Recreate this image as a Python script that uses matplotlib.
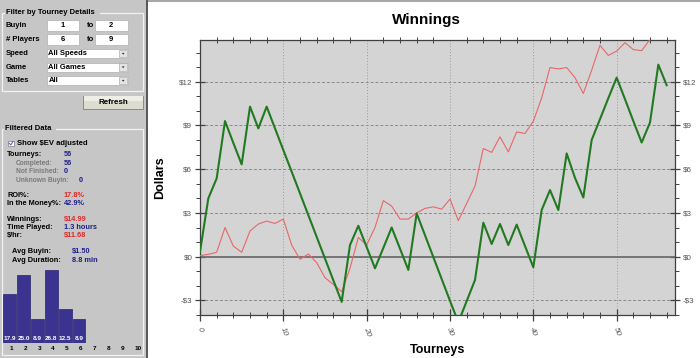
import matplotlib
matplotlib.use('Agg')
import matplotlib.pyplot as plt
import matplotlib.patches as mpatches
from matplotlib.ticker import MultipleLocator, FuncFormatter

# ---------------- data ----------------
tourneys = list(range(57))
winnings_ev = [0.34, 4.0, 5.37, 9.3, 7.8, 6.33, 10.29, 8.8, 10.29, 8.8,
               7.31, 5.83, 4.34, 2.85, 1.36, -0.13, -1.62, -3.1, 0.8, 2.12,
               0.66, -0.8, 0.6, 2.0, 0.55, -0.91, 2.97, 1.47, -0.03, -1.53,
               -3.03, -4.5, -3.05, -1.6, 2.33, 0.87, 2.24, 0.8, 2.2, 0.73,
               -0.73, 3.2, 4.57, 3.2, 7.08, 5.4, 4.06, 8.0, 9.43, 10.87,
               12.28, 10.8, 9.3, 7.83, 9.2, 13.17, 11.76]
winnings_ev_adj = [0.07, 0.16, 0.3, 2.0, 0.73, 0.3, 1.76, 2.24, 2.44, 2.28,
                   2.58, 0.8, -0.18, 0.18, -0.41, -1.44, -1.9, -2.4, -0.8, 1.32,
                   0.8, 2.0, 3.84, 3.47, 2.58, 2.58, 3.0, 3.31, 3.42, 3.26,
                   3.95, 2.47, 3.65, 4.84, 7.42, 7.15, 8.22, 7.19, 8.56, 8.45,
                   9.29, 10.89, 12.97, 12.88, 12.97, 12.28, 11.19, 12.79, 14.5, 13.8,
                   14.1, 14.68, 14.2, 14.13, 14.9, 15.6, 14.99]

finish_positions = [1, 2, 3, 4, 5, 6, 7, 8, 9, 10]
finish_pct = [17.9, 25.0, 8.9, 26.8, 12.5, 8.9, 0, 0, 0, 0]

filter_labels = ["Buyin", "# Players"]
filter_from = ["1", "6"]
filter_to = ["2", "9"]
combo_labels = ["Speed", "Game", "Tables"]
combo_values = ["All Speeds", "All Games", "All"]

W, H = 700, 358
fig = plt.figure(figsize=(W / 100, H / 100), dpi=100)
fig.patch.set_facecolor('white')

bg = fig.add_axes([0, 0, 1, 1], zorder=0)
bg.set_xlim(0, W)
bg.set_ylim(H, 0)
bg.axis('off')

PANEL = '#c6c6c6'
FONT = 'Liberation Sans'
FS = 5.3

def rect(x0, y0, x1, y1, fc='none', ec='none', lw=0.8, z=1):
    bg.add_patch(mpatches.Rectangle((x0, y0), x1 - x0, y1 - y0, facecolor=fc,
                                    edgecolor=ec, linewidth=lw, zorder=z))

def txt(x, y, s, color='black', bold=True, ha='left', fs=FS, z=5, **kw):
    bg.text(x, y, s, color=color, fontsize=fs, fontweight='bold' if bold else 'normal',
            ha=ha, va='center', family=FONT, zorder=z, **kw)

# panel background
rect(0, 0, 146, H, fc=PANEL)
rect(146, 0, 148, H, fc='#5a5a5a')
rect(148, 0, W, 2, fc='#a8a8a8')

# Filter group box
rect(2, 13, 143, 91, ec='#f2f2f2', lw=0.9)
rect(5, 9, 100, 16, fc=PANEL, z=2)
txt(6, 12.7, "Filter by Tourney Details", fs=5.5)

row_y = [25.5, 39.7]
for i, lab in enumerate(filter_labels):
    y = row_y[i]
    txt(6, y, lab, fs=5.5)
    rect(46.7, y - 5.3, 79.3, y + 5.3, fc='white', ec='#b0b0b0', lw=0.5, z=2)
    rect(95, y - 5.3, 127.7, y + 5.3, fc='white', ec='#b0b0b0', lw=0.5, z=2)
    txt(63, y, filter_from[i], ha='center', fs=5.5)
    txt(87, y, "to", fs=5.5)
    txt(111.3, y, filter_to[i], ha='center', fs=5.5)

combo_y = [53.7, 67.2, 80.7]
for i, lab in enumerate(combo_labels):
    y = combo_y[i]
    txt(6, y, lab, fs=5.5)
    rect(46.7, y - 4.6, 127.7, y + 4.6, fc='white', ec='#b0b0b0', lw=0.5, z=2)
    rect(119.3, y - 3.8, 127, y + 3.8, fc='#e4e4e4', ec='#a0a0a0', lw=0.4, z=3)
    bg.add_patch(mpatches.Polygon([(121.8, y - 0.8), (124.6, y - 0.8), (123.2, y + 1.0)],
                                  closed=True, fc='#303030', ec='none', zorder=4))
    txt(48.5, y, combo_values[i], fs=5.5)

# Refresh button
rect(83.3, 95.7, 143.3, 109.3, fc='#dcdcd0', ec='#8a8a80', lw=0.7, z=2)
rect(84, 96.4, 142.6, 101, fc='#eeeee6', z=3)
txt(113.3, 102.5, "Refresh", ha='center', fs=5.8)

# Filtered data group box
rect(2, 128.5, 143.3, 355, ec='#f2f2f2', lw=0.9)
rect(4, 124, 56, 132, fc=PANEL, z=2)
txt(5, 128.3, "Filtered Data", fs=5.5)

rect(8.3, 140.5, 13.8, 146, fc='white', ec='#808080', lw=0.5, z=2)
bg.plot([9.2, 10.8, 13.0], [143.2, 145.0, 141.4], color='#5060a0', lw=0.7, zorder=4)
txt(16.7, 143.2, "Show $EV adjusted", fs=5.5)

BLUE = '#1e1e8c'
RED = '#e02828'
GREY = '#7a7a7a'
stats = [
    ("Tourneys:", 7.3, 155.0, 'black', "56", 63.5, BLUE),
    ("Completed:", 16, 163.2, GREY, "56", 63.5, BLUE),
    ("Not Finished:", 16, 171.7, GREY, "0", 63.5, BLUE),
    ("Unknown Buyin:", 16, 180.3, GREY, "0", 79.0, BLUE),
    ("ROI%:", 7.3, 195.3, 'black', "17.8%", 63.5, RED),
    ("In the Money%:", 7.3, 203.7, 'black', "42.9%", 63.5, BLUE),
    ("Winnings:", 7.3, 219.3, 'black', "$14.99", 63.5, RED),
    ("Time Played:", 7.3, 227.5, 'black', "1.3 hours", 63.5, BLUE),
    ("$/hr:", 7.3, 236.0, 'black', "$11.68", 63.5, RED),
    ("Avg Buyin:", 12.0, 251.7, 'black', "$1.50", 72.0, BLUE),
    ("Avg Duration:", 12.0, 260.0, 'black', "8.8 min", 72.0, BLUE),
]
for lab, lx, y, lc, val, vx, vc in stats:
    txt(lx, y, lab, color=lc, fs=4.8 if lc == GREY else FS)
    txt(vx, y, val, color=vc)

# Finish-position histogram
hx0 = 2.65
hx1 = 141.65
hy_bot = 342.7
ppu = 2.71
ytop = 28.7
hax = fig.add_axes([hx0 / W, 1 - hy_bot / H, (hx1 - hx0) / W, ytop * ppu / H], zorder=2)
hax.set_xlim(0.5, 10.5)
hax.set_ylim(0, ytop)
hax.axis('off')
hax.bar(finish_positions, finish_pct, width=0.914, color='#3a3390',
        edgecolor='#28236e', linewidth=0.5)
for p, v in zip(finish_positions, finish_pct):
    if v > 0:
        hax.text(p, 1.4, f"{v:.1f}", color='white', fontsize=4.6, ha='center',
                 va='center', family=FONT, fontweight='bold')
for p in finish_positions:
    bx = hx0 + (p - 0.5) / 10 * (hx1 - hx0)
    txt(bx, 348.5, str(p), fs=4.6)

# ---------------- chart ----------------
L, R, T, B = 200, 675, 40, 315
ax = fig.add_axes([L / W, 1 - B / H, (R - L) / W, (B - T) / H], zorder=3)
ax.set_facecolor('#d4d4d4')
ax.plot(tourneys, winnings_ev, color='#217a21', lw=1.5, zorder=4)
ax.plot(tourneys, winnings_ev_adj, color='#e8676a', lw=0.8, zorder=3)
ax.set_xlim(0, 57)
ax.set_ylim(-4, 14.86)

ax.xaxis.set_major_locator(MultipleLocator(10))
ax.xaxis.set_minor_locator(MultipleLocator(2))
ax.yaxis.set_major_locator(MultipleLocator(3))
ax.yaxis.set_minor_locator(MultipleLocator(1))

def dollars(v, pos):
    v = int(round(v))
    return f"-${abs(v)}" if v < 0 else f"${v}"
ax.yaxis.set_major_formatter(FuncFormatter(dollars))

for yv in range(-3, 15, 3):
    if yv == 0:
        continue
    ax.axhline(yv, color='#8a8a8a', lw=0.7, ls=(0, (3, 2)), zorder=1)
for xv in range(10, 57, 10):
    ax.axvline(xv, color='#9a9a9a', lw=0.7, ls=(0, (1, 2)), zorder=1)
ax.axhline(0, color='#6e6e6e', lw=1.3, zorder=2)

for s in ax.spines.values():
    s.set_color('#404040')
    s.set_linewidth(0.9)

ax.tick_params(axis='y', which='major', direction='inout', length=7, width=0.9,
               color='#404040', labelsize=5.8, labelcolor='#555555',
               left=True, right=True, labelleft=True, labelright=True, pad=2)
ax.tick_params(axis='y', which='minor', direction='out', length=3, width=0.7,
               color='#404040', left=True, right=True)
ax.tick_params(axis='x', which='major', direction='inout', length=8, width=0.9,
               color='#404040', labelsize=5.8, labelcolor='#555555', top=False,
               bottom=True, pad=4)
ax.tick_params(axis='x', which='minor', direction='inout', length=4, width=0.7,
               color='#404040', top=True, bottom=True)
for lab in ax.get_yticklabels():
    lab.set_family(FONT)
for lab in ax.get_xticklabels():
    lab.set_family(FONT)
    lab.set_rotation(-70)
    lab.set_style('italic')
    lab.set_ha('center')

fig.text(426.7 / W, 1 - 20 / H, "Winnings", fontsize=11, fontweight='bold',
         ha='center', va='center', family=FONT)
fig.text(160.5 / W, 1 - 178 / H, "Dollars", fontsize=9, fontweight='bold',
         ha='center', va='center', rotation=90, family=FONT)
fig.text(437.5 / W, 1 - 350 / H, "Tourneys", fontsize=9, fontweight='bold',
         ha='center', va='center', family=FONT)

fig.savefig('out.png', dpi=100)
